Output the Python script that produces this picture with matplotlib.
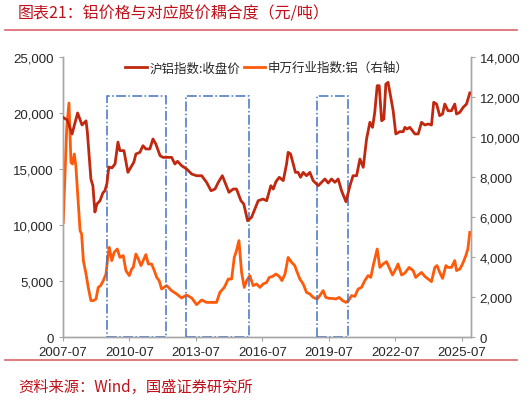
import matplotlib
matplotlib.use("Agg")
import matplotlib.pyplot as plt
from matplotlib.patches import Rectangle
from matplotlib.lines import Line2D
from matplotlib.ticker import FuncFormatter, MultipleLocator

plt.rcParams['font.family'] = ['Liberation Sans', 'Noto Sans CJK SC', 'DejaVu Sans']

# 沪铝指数:收盘价 (左轴), 时间为小数年
alu_t = [2007.51, 2007.69, 2007.91, 2008.16, 2008.36, 2008.54, 2008.60, 2008.76, 2008.85, 2008.94,
         2009.03, 2009.17, 2009.30, 2009.39, 2009.48, 2009.57, 2009.71, 2009.85, 2009.98, 2010.07,
         2010.25, 2010.43, 2010.57, 2010.70, 2010.79, 2010.97, 2011.11, 2011.24, 2011.42, 2011.56,
         2011.69, 2011.88, 2012.01, 2012.15, 2012.40, 2012.55, 2012.67, 2012.85, 2013.08, 2013.31,
         2013.53, 2013.76, 2013.98, 2014.18, 2014.36, 2014.51, 2014.69, 2014.81, 2014.99, 2015.18,
         2015.33, 2015.53, 2015.66, 2015.83, 2016.01, 2016.16, 2016.31, 2016.53, 2016.69, 2016.88,
         2016.99, 2017.11, 2017.26, 2017.44, 2017.59, 2017.66, 2017.77, 2017.89, 2017.99, 2018.11,
         2018.22, 2018.34, 2018.49, 2018.64, 2018.79, 2019.02, 2019.17, 2019.32, 2019.47, 2019.62,
         2019.77, 2019.92, 2020.07, 2020.27, 2020.45, 2020.59, 2020.75, 2020.90, 2021.05, 2021.20,
         2021.35, 2021.47, 2021.57, 2021.68, 2021.77, 2021.88, 2021.98, 2022.07, 2022.17, 2022.28,
         2022.40, 2022.52, 2022.70, 2022.85, 2022.93, 2023.03, 2023.15, 2023.27, 2023.38, 2023.53,
         2023.68, 2023.83, 2023.98, 2024.13, 2024.23, 2024.36, 2024.50, 2024.63, 2024.73, 2024.88,
         2025.03, 2025.18, 2025.26, 2025.41, 2025.56, 2025.71, 2025.86]
alu_v = [19600, 19380, 18130, 20000, 18930, 19300, 18300, 14100, 13500, 11160,
         11870, 12170, 12860, 13060, 13660, 15180, 15100, 15450, 17400, 16640,
         16640, 14700, 15180, 15620, 16340, 16490, 17080, 16790, 16790, 17680,
         17230, 16190, 16040, 16040, 16040, 15450, 15690, 15300, 15000, 14550,
         14400, 14400, 13810, 13060, 13210, 13810, 14400, 13810, 12920, 13210,
         13210, 12170, 11870, 10380, 10690, 11430, 12170, 12320, 12170, 13510,
         13210, 13870, 14260, 13960, 15450, 16490, 16340, 15450, 14700, 14700,
         14260, 14700, 14400, 14700, 13960, 13510, 13810, 14110, 13750, 14110,
         13810, 14110, 13060, 12080, 13510, 14400, 14400, 15890, 15150, 17680,
         19170, 18720, 20060, 22440, 22440, 19310, 19460, 22590, 22740, 21540,
         20200, 18130, 18330, 18330, 18720, 18570, 18720, 18420, 18130, 18130,
         19170, 18930, 19020, 18930, 20960, 20800, 19760, 19910, 20800, 20200,
         20200, 20800, 19910, 20060, 20510, 20800, 21790]

# 申万行业指数:铝 (右轴)
sw_t = [2007.51, 2007.67, 2007.77, 2007.86, 2007.93, 2008.01, 2008.08, 2008.27, 2008.34, 2008.42,
        2008.54, 2008.64, 2008.76, 2008.87, 2008.99, 2009.09, 2009.20, 2009.32, 2009.44, 2009.52,
        2009.59, 2009.70, 2009.81, 2009.95, 2010.07, 2010.22, 2010.34, 2010.49, 2010.60, 2010.67,
        2010.79, 2010.90, 2011.02, 2011.12, 2011.24, 2011.35, 2011.50, 2011.62, 2011.73, 2011.84,
        2011.95, 2012.06, 2012.18, 2012.40, 2012.63, 2012.85, 2013.08, 2013.31, 2013.53, 2013.76,
        2013.98, 2014.21, 2014.43, 2014.58, 2014.78, 2014.96, 2015.11, 2015.23, 2015.33, 2015.44,
        2015.56, 2015.68, 2015.79, 2015.93, 2016.08, 2016.24, 2016.39, 2016.53, 2016.69, 2016.81,
        2016.96, 2017.11, 2017.26, 2017.38, 2017.52, 2017.66, 2017.82, 2017.96, 2018.04, 2018.19,
        2018.34, 2018.49, 2018.64, 2018.79, 2018.97, 2019.09, 2019.24, 2019.36, 2019.51, 2019.66,
        2019.81, 2019.96, 2020.12, 2020.27, 2020.39, 2020.52, 2020.67, 2020.82, 2020.97, 2021.12,
        2021.27, 2021.39, 2021.50, 2021.68, 2021.80, 2021.95, 2022.10, 2022.25, 2022.37, 2022.52,
        2022.62, 2022.78, 2022.93, 2023.12, 2023.30, 2023.42, 2023.53, 2023.68, 2023.83, 2023.98,
        2024.13, 2024.28, 2024.38, 2024.50, 2024.63, 2024.78, 2024.88, 2025.03, 2025.18, 2025.26,
        2025.41, 2025.53, 2025.68, 2025.77, 2025.86]
sw_v = [5730, 10480, 11700, 8730, 8650, 9150, 8570, 5320, 5150, 3820,
        3150, 2480, 1820, 1820, 1900, 2480, 2570, 2820, 3150, 3980,
        4480, 3820, 4230, 4400, 3980, 4070, 3320, 3070, 3400, 3480,
        4150, 3900, 3570, 3820, 4120, 3650, 3650, 3320, 2980, 2820,
        2400, 2480, 2570, 2320, 2150, 1950, 2100, 1950, 1620, 1850,
        1730, 1730, 1730, 2230, 2480, 2900, 2900, 3980, 4320, 4820,
        3230, 2480, 2820, 3070, 2570, 2650, 2480, 2650, 2730, 2980,
        3030, 3150, 3030, 2820, 3150, 3980, 3730, 3570, 3320, 2900,
        2650, 2230, 2150, 1980, 1900, 2070, 2320, 1980, 1930, 1930,
        1900, 1980, 1820, 1730, 1820, 2070, 2030, 2400, 2480, 2820,
        3070, 2980, 3570, 4400, 3480, 3650, 3770, 3400, 3100, 3400,
        3650, 3100, 3200, 3480, 3320, 2980, 3100, 3230, 3030, 2900,
        2770, 3480, 3570, 3230, 2930, 3570, 3480, 3480, 3820, 3320,
        3400, 3650, 4070, 4400, 5230]

# 虚线框区间
box_start = [2009.48, 2013.05, 2018.97]
box_end = [2012.15, 2015.89, 2020.37]
box_top = 21500

tick_years = [2007.5, 2010.5, 2013.5, 2016.5, 2019.5, 2022.5, 2025.5]
tick_labels = ['2007-07', '2010-07', '2013-07', '2016-07', '2019-07', '2022-07', '2025-07']

c_alu = '#C0280F'
c_sw = '#FF5A0A'
grey = '#A6A6A6'
red = '#C0101A'

fig = plt.figure(figsize=(5.32, 4.02), dpi=100)
ax = fig.add_axes([0.1184, 0.1592, 0.7664, 0.6965])
ax2 = ax.twinx()

for s, e in zip(box_start, box_end):
    ax.add_patch(Rectangle((s, 0), e - s, box_top, fill=False, ec='#4472C4',
                           lw=1.1, ls='-.', zorder=1))

l1, = ax.plot(alu_t, alu_v, color=c_alu, lw=2.0, zorder=3)
l2, = ax2.plot(sw_t, sw_v, color=c_sw, lw=2.0, zorder=3)

ax.set_xlim(2007.5, 2025.9)
ax.set_ylim(0, 25000)
ax2.set_ylim(0, 14000)
ax.yaxis.set_major_locator(MultipleLocator(5000))
ax2.yaxis.set_major_locator(MultipleLocator(2000))
fmt = FuncFormatter(lambda v, p: f'{int(v):,}')
ax.yaxis.set_major_formatter(fmt)
ax2.yaxis.set_major_formatter(fmt)
ax.set_xticks(tick_years)
ax.set_xticklabels(tick_labels)

for a in (ax, ax2):
    a.spines['top'].set_visible(False)
    for sp in ('left', 'right', 'bottom'):
        a.spines[sp].set_color(grey)
        a.spines[sp].set_linewidth(1.0)
    a.tick_params(axis='both', colors=grey, labelcolor='#262626', labelsize=9.5,
                  length=3, width=0.8, direction='out')
ax.set_zorder(ax2.get_zorder() + 1)
ax.patch.set_visible(False)

leg = ax.legend([l1, l2], ['沪铝指数:收盘价', '申万行业指数:铝（右轴）'], loc='center',
                bbox_to_anchor=(0.5, 0.962), ncol=2, frameon=False, fontsize=9,
                handlelength=1.7, handletextpad=0.2, columnspacing=0.3)
for t in leg.get_texts():
    t.set_color('#262626')
    t.set_fontfamily(['Noto Sans CJK SC', 'DejaVu Sans'])

fig.text(0.034, 0.965, '图表21：铝价格与对应股价耦合度（元/吨）', color=red, fontsize=11.5,
         style='italic', va='center', ha='left', family=['Noto Sans CJK SC', 'DejaVu Sans'])
fig.add_artist(Line2D([0.01, 0.972], [0.923, 0.923], color='#D9646A', lw=1.2))
fig.add_artist(Line2D([0.01, 0.972], [0.101, 0.101], color='#D9646A', lw=1.2))
fig.text(0.034, 0.037, '资料来源：Wind，国盛证券研究所', color=red, fontsize=11,
         style='italic', va='center', ha='left', family=['Noto Sans CJK SC', 'DejaVu Sans'])

fig.savefig('out.png', dpi=100)
